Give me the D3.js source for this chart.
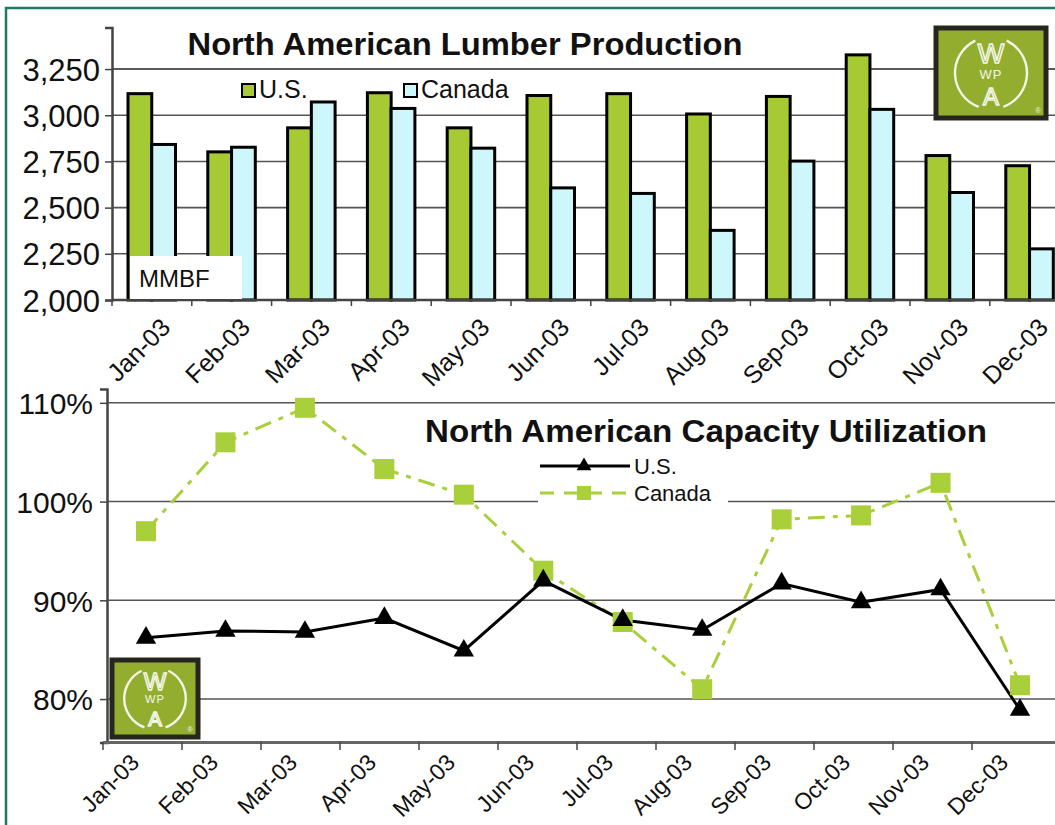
<!DOCTYPE html>
<html>
<head>
<meta charset="utf-8">
<script src="https://cdn.jsdelivr.net/npm/d3@7/dist/d3.min.js"></script>
<style>
  body { margin: 0; background: #fff; }
  svg { display: block; font-family: "Liberation Sans", Arial, sans-serif; }
</style>
</head>
<body>
<div id="chart"></div>
<script>
const width = 1055;
const height = 825;

// data
const months = ["Jan-03", "Feb-03", "Mar-03", "Apr-03", "May-03", "Jun-03",
  "Jul-03", "Aug-03", "Sep-03", "Oct-03", "Nov-03", "Dec-03"];
const usProduction = [3125, 2810, 2940, 3130, 2940, 3115, 3125, 3015, 3110, 3335, 2790, 2735];
const canadaProduction = [2850, 2835, 3080, 3045, 2830, 2615, 2585, 2385, 2760, 3040, 2590, 2285];
const productionTicks = [2000, 2250, 2500, 2750, 3000, 3250];
const usCapacity = [86.2, 86.9, 86.8, 88.2, 84.9, 92.0, 88.0, 87.0, 91.7, 89.8, 91.1, 78.9];
const canadaCapacity = [97.0, 106.0, 109.5, 103.3, 100.7, 93.0, 87.8, 81.0, 98.2, 98.6, 101.9, 81.4];
const capacityTicks = [80, 90, 100, 110];

const usGreen = "#a6c934";
const canadaCyan = "#cdf7fa";
const lineGreen = "#a9cf3a";

const svg = d3.select("#chart").append("svg")
  .attr("width", width)
  .attr("height", height);

// frame
svg.append("path")
  .attr("d", `M6,${height} L6,8 L${width},8`)
  .attr("fill", "none")
  .attr("stroke", "#1d7a63")
  .attr("stroke-width", 2.5);

function drawLogo(x, y, w, h) {
  const g = svg.append("g");
  const ink = "#f4f6ea";
  g.append("rect")
    .attr("x", x).attr("y", y).attr("width", w).attr("height", h)
    .attr("fill", "#93ae2f")
    .attr("stroke", "#26261e")
    .attr("stroke-width", 5);
  const cx = x + w / 2;
  const cy = y + h / 2;
  const r = Math.min(w, h) * 0.4;
  const arc = d3.arc().innerRadius(r - 1.2).outerRadius(r + 1.2);
  [[0.45, Math.PI - 0.35], [Math.PI + 0.35, 2 * Math.PI - 0.45]].forEach(([a0, a1]) => {
    g.append("path")
      .attr("transform", `translate(${cx},${cy})`)
      .attr("d", arc({ startAngle: a0, endAngle: a1 }))
      .attr("fill", ink);
  });
  g.append("text")
    .attr("x", cx).attr("y", cy - r * 0.28)
    .attr("text-anchor", "middle")
    .attr("font-size", r * 0.78)
    .attr("fill", "none").attr("stroke", ink).attr("stroke-width", 1.5)
    .text("W");
  g.append("text")
    .attr("x", cx).attr("y", cy + r * 0.16)
    .attr("text-anchor", "middle")
    .attr("font-size", r * 0.36)
    .attr("fill", ink)
    .attr("letter-spacing", 1)
    .text("WP");
  g.append("text")
    .attr("x", cx).attr("y", cy + r * 0.88)
    .attr("text-anchor", "middle")
    .attr("font-size", r * 0.66)
    .attr("fill", "none").attr("stroke", ink).attr("stroke-width", 1.5)
    .text("A");
  g.append("text")
    .attr("x", x + w - 8).attr("y", y + h - 5)
    .attr("text-anchor", "middle")
    .attr("font-size", 7)
    .attr("fill", ink)
    .text("®");
}

// ---------- top chart: production ----------
const x0 = d3.scaleBand().domain(months).range([112, 112 + 79.8 * 12]);
const x1 = d3.scaleBand().domain(["US", "Canada"]).range([16, 63.5]);
const yTop = d3.scaleLinear().domain([2000, 3475]).range([300, 27.5]);

svg.append("g")
  .selectAll("line")
  .data(productionTicks.slice(1))
  .join("line")
  .attr("x1", 112).attr("x2", width)
  .attr("y1", (d) => yTop(d)).attr("y2", (d) => yTop(d))
  .attr("stroke", (d) => (d === 3250 ? "#222" : "#555"))
  .attr("stroke-width", 1.6);

const groups = svg.append("g")
  .selectAll("g")
  .data(months)
  .join("g")
  .attr("transform", (d) => `translate(${x0(d)},0)`);

groups.append("rect")
  .attr("x", x1("US"))
  .attr("y", (d, i) => yTop(usProduction[i]) + 1.5)
  .attr("width", x1.bandwidth())
  .attr("height", (d, i) => yTop(2000) - yTop(usProduction[i]) - 1.5)
  .attr("fill", usGreen)
  .attr("stroke", "#000")
  .attr("stroke-width", 3);

groups.append("rect")
  .attr("x", x1("Canada"))
  .attr("y", (d, i) => yTop(canadaProduction[i]) + 1.5)
  .attr("width", x1.bandwidth())
  .attr("height", (d, i) => yTop(2000) - yTop(canadaProduction[i]) - 1.5)
  .attr("fill", canadaCyan)
  .attr("stroke", "#000")
  .attr("stroke-width", 3);

// y axis
const yTopAxis = svg.append("g")
  .attr("transform", "translate(112,0)")
  .call(d3.axisLeft(yTop).tickValues(productionTicks).tickFormat(d3.format(",")).tickSize(7).tickPadding(5));
yTopAxis.select(".domain").attr("stroke", "#444").attr("stroke-width", 2.5);
yTopAxis.selectAll(".tick line").attr("stroke", "#444").attr("stroke-width", 1.5);
yTopAxis.selectAll("text")
  .attr("font-size", 31)
  .attr("font-family", "Liberation Sans, Arial, sans-serif")
  .attr("fill", "#111")
  .attr("dy", "0.36em");

// x axis
svg.append("line")
  .attr("x1", 112).attr("x2", width)
  .attr("y1", yTop(2000)).attr("y2", yTop(2000))
  .attr("stroke", "#444").attr("stroke-width", 2.5);
svg.append("g")
  .selectAll("line")
  .data(months)
  .join("line")
  .attr("x1", (d) => x0(d)).attr("x2", (d) => x0(d))
  .attr("y1", 300).attr("y2", 306)
  .attr("stroke", "#444").attr("stroke-width", 1.5);
svg.append("g")
  .selectAll("text")
  .data(months)
  .join("text")
  .attr("transform", (d) => `translate(${x0(d) + x0.bandwidth() / 2 + 20},329) rotate(-45)`)
  .attr("text-anchor", "end")
  .attr("font-size", 25)
  .attr("fill", "#111")
  .text((d) => d);

// title, legend, unit box
svg.append("text")
  .attr("x", 465).attr("y", 55)
  .attr("text-anchor", "middle")
  .attr("font-size", 31)
  .attr("font-weight", "bold")
  .attr("textLength", 555)
  .attr("lengthAdjust", "spacingAndGlyphs")
  .attr("fill", "#111")
  .text("North American Lumber Production");

const topLegend = [
  { name: "U.S.", color: usGreen, x: 242 },
  { name: "Canada", color: canadaCyan, x: 404 },
];
svg.append("g")
  .selectAll("rect")
  .data(topLegend)
  .join("rect")
  .attr("x", (d) => d.x).attr("y", 84)
  .attr("width", 13).attr("height", 13)
  .attr("fill", (d) => d.color)
  .attr("stroke", "#000").attr("stroke-width", 2);
svg.append("g")
  .selectAll("text")
  .data(topLegend)
  .join("text")
  .attr("x", (d) => d.x + 17).attr("y", 98)
  .attr("font-size", 25)
  .attr("fill", "#111")
  .text((d) => d.name);

svg.append("rect")
  .attr("x", 130).attr("y", 256)
  .attr("width", 112).attr("height", 43)
  .attr("fill", "#fff");
svg.append("text")
  .attr("x", 139).attr("y", 287)
  .attr("font-size", 24)
  .attr("fill", "#111")
  .text("MMBF");

drawLogo(936, 28, 110, 90);

// ---------- bottom chart: capacity ----------
const xb = d3.scaleBand().domain(months).range([103, 103 + 79 * 12]);
const xp = d3.scalePoint().domain(months).range([146, 1020]);
const yBot = d3.scaleLinear().domain([75.6, 111.4]).range([742.5, 389]);

svg.append("g")
  .selectAll("line")
  .data(capacityTicks)
  .join("line")
  .attr("x1", 107).attr("x2", width)
  .attr("y1", (d) => yBot(d)).attr("y2", (d) => yBot(d))
  .attr("stroke", "#555")
  .attr("stroke-width", 1.6);

const yBotAxis = svg.append("g")
  .attr("transform", "translate(107,0)")
  .call(d3.axisLeft(yBot).tickValues(capacityTicks).tickFormat((d) => d + "%").tickSize(7).tickPadding(7));
yBotAxis.select(".domain").attr("stroke", "#444").attr("stroke-width", 2.5);
yBotAxis.selectAll(".tick line").attr("stroke", "#444").attr("stroke-width", 1.5);
yBotAxis.selectAll("text")
  .attr("font-size", 30)
  .attr("font-family", "Liberation Sans, Arial, sans-serif")
  .attr("fill", "#111")
  .attr("dy", "0.36em");

svg.append("line")
  .attr("x1", 103).attr("x2", width)
  .attr("y1", 742.5).attr("y2", 742.5)
  .attr("stroke", "#666").attr("stroke-width", 3);
svg.append("g")
  .selectAll("line")
  .data(months)
  .join("line")
  .attr("x1", (d) => xb(d)).attr("x2", (d) => xb(d))
  .attr("y1", 742).attr("y2", 750)
  .attr("stroke", "#444").attr("stroke-width", 1.5);
svg.append("g")
  .selectAll("text")
  .data(months)
  .join("text")
  .attr("transform", (d) => `translate(${xb(d) + xb.bandwidth() / 2 - 2},764) rotate(-45)`)
  .attr("text-anchor", "end")
  .attr("font-size", 23)
  .attr("fill", "#111")
  .text((d) => d);

// lines
const line = d3.line()
  .x((d, i) => xp(months[i]))
  .y((d) => yBot(d));

svg.append("path")
  .datum(canadaCapacity)
  .attr("d", line)
  .attr("fill", "none")
  .attr("stroke", lineGreen)
  .attr("stroke-width", 3)
  .attr("stroke-dasharray", "17,8,5,8");

svg.append("path")
  .datum(usCapacity)
  .attr("d", line)
  .attr("fill", "none")
  .attr("stroke", "#000")
  .attr("stroke-width", 3);

svg.append("g")
  .selectAll("path")
  .data(canadaCapacity)
  .join("path")
  .attr("transform", (d, i) => `translate(${xp(months[i])},${yBot(d)})`)
  .attr("d", d3.symbol(d3.symbolSquare, 400))
  .attr("fill", lineGreen);

svg.append("g")
  .selectAll("path")
  .data(usCapacity)
  .join("path")
  .attr("transform", (d, i) => `translate(${xp(months[i])},${yBot(d)})`)
  .attr("d", d3.symbol(d3.symbolTriangle, 180))
  .attr("fill", "#000");

// title and legend
svg.append("text")
  .attr("x", 706).attr("y", 442)
  .attr("text-anchor", "middle")
  .attr("font-size", 31)
  .attr("font-weight", "bold")
  .attr("textLength", 562)
  .attr("lengthAdjust", "spacingAndGlyphs")
  .attr("fill", "#111")
  .text("North American Capacity Utilization");

svg.append("rect")
  .attr("x", 538).attr("y", 455)
  .attr("width", 190).attr("height", 50)
  .attr("fill", "#fff");

const botLegend = [
  { name: "U.S.", y: 466, color: "#000", dash: null, symbol: d3.symbolTriangle, size: 95 },
  { name: "Canada", y: 493, color: lineGreen, dash: "14,10", symbol: d3.symbolSquare, size: 200 },
];
const leg = svg.append("g")
  .selectAll("g")
  .data(botLegend)
  .join("g");
leg.append("line")
  .attr("x1", 540).attr("x2", 630)
  .attr("y1", (d) => d.y).attr("y2", (d) => d.y)
  .attr("stroke", (d) => d.color)
  .attr("stroke-width", 3)
  .attr("stroke-dasharray", (d) => d.dash);
leg.append("path")
  .attr("transform", (d) => `translate(584,${d.y})`)
  .attr("d", (d) => d3.symbol(d.symbol, d.size)())
  .attr("fill", (d) => d.color);
leg.append("text")
  .attr("x", 634).attr("y", (d) => d.y + 8)
  .attr("font-size", 22)
  .attr("fill", "#111")
  .text((d) => d.name);

drawLogo(112, 660, 86, 77);
</script>
</body>
</html>
